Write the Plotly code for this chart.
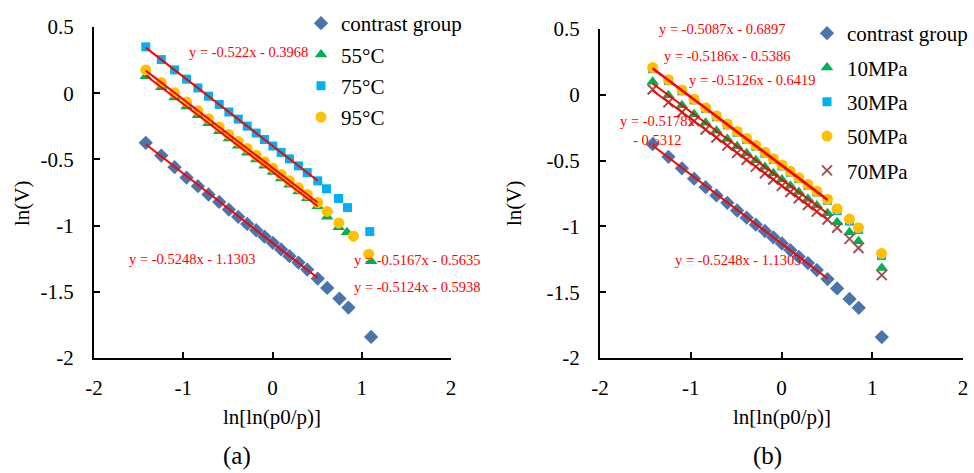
import plotly.graph_objects as go

# ---------------- data ----------------
x_main = [-1.42, -1.246, -1.097, -0.963, -0.836, -0.717, -0.597, -0.489, -0.384,
          -0.283, -0.183, -0.09, 0.004, 0.097, 0.19, 0.291, 0.389, 0.507]

# contrast group (same in both panels)
contrast_x_tail = [0.613, 0.75, 0.851, 1.105]
contrast_y = [-0.375, -0.471, -0.559, -0.637, -0.702, -0.765, -0.821, -0.879, -0.934,
              -0.987, -1.035, -1.083, -1.130, -1.180, -1.231, -1.279, -1.332, -1.400,
              -1.471, -1.551, -1.619, -1.841]

# panel (a): temperature
t55_x_tail = [0.613, 0.742, 0.835, 1.105]
t55_y = [0.128, 0.044, -0.032, -0.100, -0.166, -0.227, -0.288, -0.343, -0.397,
         -0.449, -0.500, -0.548, -0.596, -0.644, -0.691, -0.743, -0.793, -0.854,
         -0.934, -1.012, -1.050, -1.270]
t75_x_tail = [0.605, 0.74, 0.84, 1.09]
t75_y = [0.350, 0.254, 0.176, 0.106, 0.040, -0.023, -0.085, -0.142, -0.196,
         -0.249, -0.301, -0.350, -0.399, -0.447, -0.496, -0.549, -0.600, -0.662,
         -0.722, -0.795, -0.864, -1.045]
t95_x_tail = [0.613, 0.743, 0.907, 1.078]
t95_y = [0.176, 0.080, 0.003, -0.066, -0.132, -0.193, -0.255, -0.311, -0.365,
         -0.417, -0.469, -0.517, -0.566, -0.614, -0.662, -0.714, -0.765, -0.826,
         -0.893, -0.980, -1.080, -1.216]

# panel (b): pressure
p10_x_tail = [0.613, 0.749, 0.848, 1.105]
p10_y = [0.100, -0.003, -0.080, -0.148, -0.213, -0.274, -0.336, -0.391, -0.445,
         -0.497, -0.548, -0.596, -0.644, -0.692, -0.739, -0.791, -0.841, -0.900,
         -0.969, -1.045, -1.113, -1.316]
p30_x_tail = [0.613, 0.749, 0.848, 1.102]
p30_y = [0.198, 0.108, 0.030, -0.039, -0.105, -0.167, -0.229, -0.285, -0.340,
         -0.392, -0.444, -0.492, -0.541, -0.589, -0.637, -0.690, -0.740, -0.802,
         -0.880, -0.960, -1.025, -1.222]
p50_x_tail = [0.613, 0.749, 0.848, 1.102]
p50_y = [0.207, 0.114, 0.037, -0.033, -0.098, -0.160, -0.222, -0.278, -0.332,
         -0.385, -0.436, -0.485, -0.533, -0.581, -0.630, -0.682, -0.733, -0.794,
         -0.865, -0.944, -1.010, -1.205]
p70_x_tail = [0.613, 0.749, 0.848, 1.105]
p70_y = [0.040, -0.056, -0.132, -0.200, -0.264, -0.325, -0.386, -0.441, -0.494,
         -0.546, -0.597, -0.644, -0.692, -0.739, -0.786, -0.838, -0.888, -0.948,
         -1.010, -1.095, -1.164, -1.370]

# linear fits (slope, intercept)
fit_contrast = (-0.5248, -1.1303)
fit_t55 = (-0.5124, -0.5938)
fit_t75 = (-0.522, -0.3968)
fit_t95 = (-0.5167, -0.5635)
fit_p10 = (-0.5126, -0.6419)
fit_p30 = (-0.5186, -0.5386)
fit_p50 = (-0.5178, -0.5312)
fit_p70 = (-0.5087, -0.6897)

x_tickvals = [-2, -1, 0, 1, 2]
x_ticktext = ["-2", "-1", "0", "1", "2"]
y_tickvals = [0.5, 0, -0.5, -1, -1.5, -2]
y_ticktext = ["0.5", "0", "-0.5", "-1", "-1.5", "-2"]

# ---------------- styles ----------------
FONT = "Liberation Serif"
W, H = 974, 473
RED = "#FF0000"
styles = {
    "contrast group": dict(symbol="diamond", color="#4A74AC", size=11),
    "55°C": dict(symbol="triangle-up", color="#00B050", size=11),
    "75°C": dict(symbol="square", color="#00B0F0", size=9),
    "95°C": dict(symbol="circle", color="#FFC000", size=11),
    "10MPa": dict(symbol="triangle-up", color="#00B050", size=11),
    "30MPa": dict(symbol="square", color="#00B0F0", size=9),
    "50MPa": dict(symbol="circle", color="#FFC000", size=11),
    "70MPa": dict(symbol="x-thin", color="#A0504D", size=10),
}

fig = go.Figure()

def add_series(name, xs, ys, xa, ya, leg):
    st = styles[name]
    mk = dict(symbol=st["symbol"], color=st["color"], size=st["size"])
    if st["symbol"] == "x-thin":
        mk["line"] = dict(color=st["color"], width=2)
    else:
        mk["line"] = dict(width=0)
    fig.add_trace(go.Scatter(x=xs, y=ys, mode="markers", name=name, marker=mk,
                             xaxis=xa, yaxis=ya, legend=leg,
                             legendgroup=leg + name, showlegend=True))

def add_fit(fit, xa, ya):
    k, b = fit
    xs = [x_main[0], x_main[-1]]
    ys = [k * v + b for v in xs]
    fig.add_trace(go.Scatter(x=xs, y=ys, mode="lines", line=dict(color=RED, width=2),
                             xaxis=xa, yaxis=ya, showlegend=False, hoverinfo="skip"))

# panel (a)
add_series("contrast group", x_main + contrast_x_tail, contrast_y, "x", "y", "legend")
add_series("55°C", x_main + t55_x_tail, t55_y, "x", "y", "legend")
add_series("75°C", x_main + t75_x_tail, t75_y, "x", "y", "legend")
add_series("95°C", x_main + t95_x_tail, t95_y, "x", "y", "legend")
for f in (fit_contrast, fit_t55, fit_t75, fit_t95):
    add_fit(f, "x", "y")

# panel (b)
add_series("contrast group", x_main + contrast_x_tail, contrast_y, "x2", "y2", "legend2")
add_series("10MPa", x_main + p10_x_tail, p10_y, "x2", "y2", "legend2")
add_series("30MPa", x_main + p30_x_tail, p30_y, "x2", "y2", "legend2")
add_series("50MPa", x_main + p50_x_tail, p50_y, "x2", "y2", "legend2")
add_series("70MPa", x_main + p70_x_tail, p70_y, "x2", "y2", "legend2")
for f in (fit_contrast, fit_p10, fit_p30, fit_p50, fit_p70):
    add_fit(f, "x2", "y2")

def eq_text(fit):
    k, b = fit
    return f"y = -{abs(k):g}x - {abs(b):g}"

def px(x, y):
    return x / W, 1 - y / H

annotations = []
def ann(text, x, y, size, color="black", angle=0):
    ax, ay = px(x, y)
    annotations.append(dict(text=text, x=ax, y=ay, xref="paper", yref="paper",
                            xanchor="center", yanchor="middle", showarrow=False,
                            textangle=angle, font=dict(family=FONT, size=size, color=color)))

EQ = 14.5
ann(eq_text(fit_t75), 248, 52, EQ, RED)
ann(eq_text(fit_contrast), 192, 259, EQ, RED)
ann(eq_text(fit_t95), 417, 260, EQ, RED)
ann(eq_text(fit_t55), 417, 287, EQ, RED)

ann(eq_text(fit_p70), 722, 29, EQ, RED)
ann(eq_text(fit_p30), 727, 56, EQ, RED)
ann(eq_text(fit_p10), 752, 80, EQ, RED)
k, b = fit_p50
ann(f"y = -{abs(k):g}x<br>- {abs(b):g}", 657, 130, EQ, RED)
ann(eq_text(fit_contrast), 738, 260, EQ, RED)

ann("ln(V)", 22, 203, 21, angle=-90)
ann("ln(V)", 514, 203, 21, angle=-90)
ann("ln[ln(p0/p)]", 272, 417, 21)
ann("ln[ln(p0/p)]", 782, 417, 21)
ann("(a)", 237, 456, 25)
ann("(b)", 767, 456, 25)

axis_common = dict(showline=True, linecolor="black", linewidth=2, ticks="inside",
                   ticklen=6, tickwidth=2, tickcolor="black", showgrid=False,
                   zeroline=False, automargin=False,
                   tickfont=dict(family=FONT, size=21, color="black"))

xa = dict(axis_common, range=[-2, 2], tickvals=x_tickvals, ticktext=x_ticktext,
          ticklabelstandoff=10)
ya = dict(axis_common, range=[-2, 0.5], tickvals=y_tickvals, ticktext=y_ticktext,
          ticklabelstandoff=14)

fig.update_layout(
    template="none",
    width=W, height=H, autosize=False,
    margin=dict(l=0, r=0, t=0, b=0, pad=0),
    paper_bgcolor="white", plot_bgcolor="white",
    showlegend=True,
    xaxis=dict(xa, domain=[94 / W, 451 / W], anchor="y"),
    yaxis=dict(ya, domain=[1 - 358 / H, 1 - 27 / H], anchor="x"),
    xaxis2=dict(xa, domain=[600 / W, 963 / W], anchor="y2"),
    yaxis2=dict(ya, domain=[1 - 358 / H, 1 - 29 / H], anchor="x2"),
    legend=dict(x=301 / W, y=1 - 3 / H, xanchor="left", yanchor="top",
                bgcolor="rgba(0,0,0,0)", tracegroupgap=1, traceorder="grouped",
                font=dict(family=FONT, size=21, color="black")),
    legend2=dict(x=807 / W, y=1 - 13 / H, xanchor="left", yanchor="top",
                 bgcolor="rgba(0,0,0,0)", tracegroupgap=4, traceorder="grouped",
                 font=dict(family=FONT, size=21, color="black")),
    annotations=annotations,
)

fig.write_html("out.html", config={"responsive": False})
